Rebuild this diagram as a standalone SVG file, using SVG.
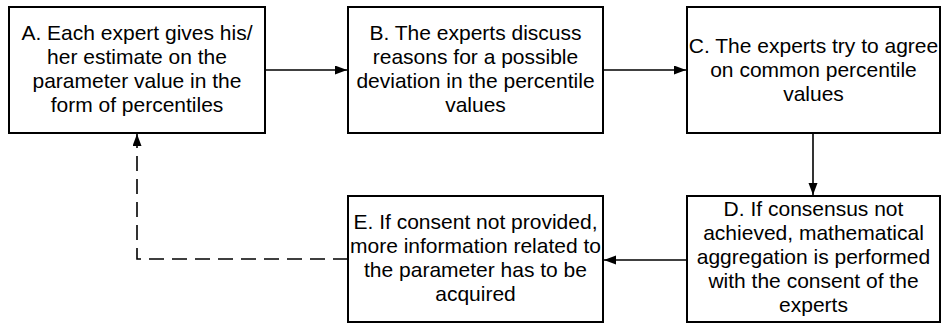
<svg xmlns="http://www.w3.org/2000/svg" width="943" height="323" viewBox="0 0 943 323">
<defs>
<style>
.box{fill:#fff;stroke:#000;stroke-width:2}
.t{font-family:"Liberation Sans",Arial,sans-serif;font-size:21px;fill:#000;text-anchor:middle}
.c{fill:none;stroke:#000;stroke-width:1.6}
.d{stroke-dasharray:15 8}
</style>
<marker id="ah" markerUnits="userSpaceOnUse" markerWidth="13" markerHeight="10" refX="12" refY="4.5" orient="auto" viewBox="0 0 13 10">
<path d="M0,0 L12,4.5 L0,9 z" fill="#000"/>
</marker>
</defs>
<rect width="943" height="323" fill="#fff"/>
<g id="connectors">
<line class="c" x1="265" y1="70" x2="347" y2="70" marker-end="url(#ah)"/>
<line class="c" x1="603" y1="70" x2="686" y2="70" marker-end="url(#ah)"/>
<line class="c" x1="813" y1="133" x2="813" y2="195" marker-end="url(#ah)"/>
<line class="c" x1="687" y1="260" x2="604" y2="260" marker-end="url(#ah)"/>
<polyline class="c d" points="348,259 137,259 137,134" marker-end="url(#ah)"/>
</g>
<g id="nodeA">
<rect class="box" x="9" y="7" width="256" height="126"/>
<text class="t"><tspan x="137" y="40">A. Each expert gives his/</tspan><tspan x="137" y="64">her estimate on the</tspan><tspan x="137" y="88">parameter value in the</tspan><tspan x="137" y="112">form of percentiles</tspan></text>
</g>
<g id="nodeB">
<rect class="box" x="348" y="7" width="255" height="126"/>
<text class="t"><tspan x="475.5" y="40">B. The experts discuss</tspan><tspan x="475.5" y="64">reasons for a possible</tspan><tspan x="475.5" y="88">deviation in the percentile</tspan><tspan x="475.5" y="112">values</tspan></text>
</g>
<g id="nodeC">
<rect class="box" x="687" y="7" width="253" height="126"/>
<text class="t"><tspan x="813.5" y="53">C. The experts try to agree</tspan><tspan x="813.5" y="77">on common percentile</tspan><tspan x="813.5" y="101">values</tspan></text>
</g>
<g id="nodeD">
<rect class="box" x="687" y="196" width="253" height="126"/>
<text class="t"><tspan x="813.5" y="216">D. If consensus not</tspan><tspan x="813.5" y="240">achieved, mathematical</tspan><tspan x="813.5" y="264">aggregation is performed</tspan><tspan x="813.5" y="288">with the consent of the</tspan><tspan x="813.5" y="312">experts</tspan></text>
</g>
<g id="nodeE">
<rect class="box" x="348" y="196" width="255" height="126"/>
<text class="t"><tspan x="475.5" y="229">E. If consent not provided,</tspan><tspan x="475.5" y="253">more information related to</tspan><tspan x="475.5" y="277">the parameter has to be</tspan><tspan x="475.5" y="301">acquired</tspan></text>
</g>
</svg>
